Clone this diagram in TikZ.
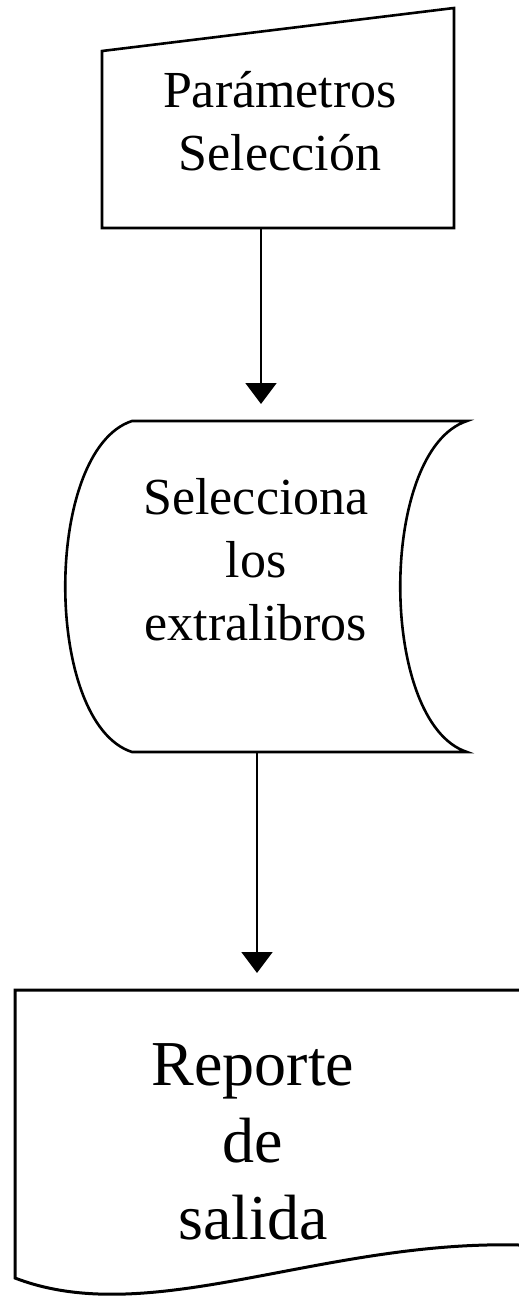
\documentclass[tikz,border=0pt]{standalone}
\usepackage{fontspec}
\setmainfont{Liberation Serif}
\usetikzlibrary{arrows.meta,calc}

\begin{document}
\begin{tikzpicture}[x=1pt,y=1pt,
    linea/.style={line width=2.6pt},
    flecha/.style={line width=2pt, -{Triangle[length=21pt,width=31pt]}},
    caja/.style={inner sep=0pt, outer sep=0pt},
    texto/.style={align=center, inner sep=0pt, font=\fontsize{52}{63}\selectfont},
    textog/.style={align=center, inner sep=0pt, font=\fontsize{64}{77}\selectfont}]
    \useasboundingbox (0,0) rectangle (519,-1309);
    % entrada manual
    \node[caja, minimum width=352pt, minimum height=220pt] (param) at (278,-118) {};
    \draw[linea] (param.south west) -- (param.south east) -- (param.north east) -- ($(param.north west)+(0,-43)$) -- cycle;
    \node[texto] (paramtxt) at (280,-121) {Parámetros\\Selección};
    % datos almacenados
    \node[caja, minimum width=335pt, minimum height=331pt] (selec) at (299.5,-586.5) {};
    \draw[linea] (selec.north west) -- (selec.north east)
        .. controls ($(selec.north east)+(-89,-29)$) and ($(selec.south east)+(-89,29)$) .. (selec.south east)
        -- (selec.south west)
        .. controls ($(selec.south west)+(-89,29)$) and ($(selec.north west)+(-89,-29)$) .. cycle;
    \node[texto] (selectxt) at (256,-560) {Selecciona\\los\\extralibros};
    % documento
    \node[caja, minimum width=504pt, minimum height=288pt] (reporte) at (267,-1134) {};
    \draw[linea, line width=3pt] (reporte.north east) -- (reporte.north west) -- (reporte.south west)
        .. controls ($(reporte.south west)+(135,-52)$) and ($(reporte.south east)+(-199,38)$) .. ($(reporte.south east)+(0,33)$);
    \node[textog] (reportetxt) at (253,-1142) {Reporte\\de\\salida};
    % flechas
    \coordinate (ejeA) at (261,0);
    \coordinate (ejeB) at (257,0);
    \draw[flecha, shorten >=17pt] (param.south -| ejeA) -- (selec.north -| ejeA);
    \draw[flecha, shorten >=17pt] (selec.south -| ejeB) -- (reporte.north -| ejeB);
\end{tikzpicture}
\end{document}
